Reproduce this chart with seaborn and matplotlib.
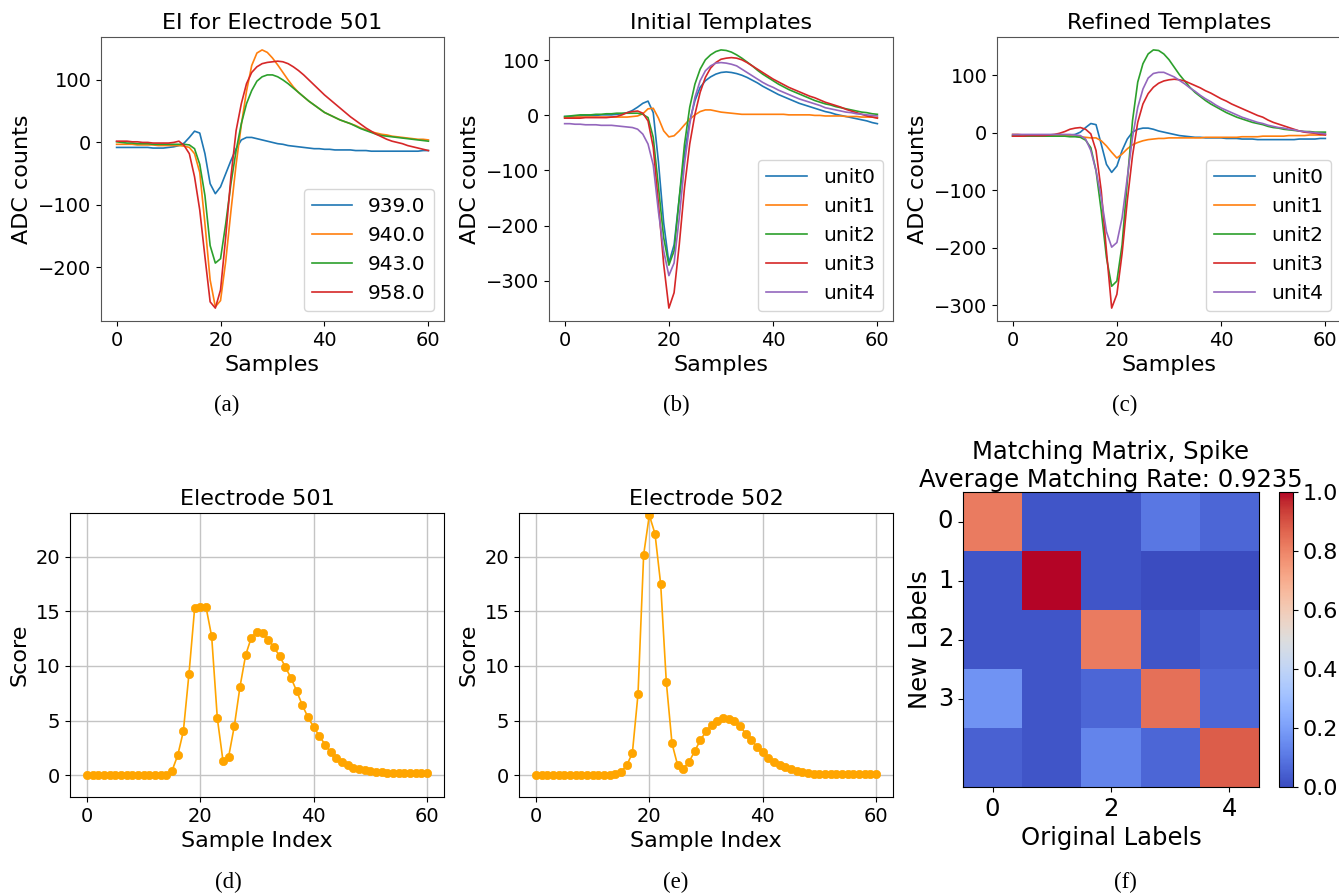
import numpy as np
import matplotlib
matplotlib.use('Agg')
import matplotlib.pyplot as plt
import seaborn as sns

samples = list(range(61))

# (a) EI for electrode 501, one trace per channel
ei_939 = [-8, -8, -8, -8, -8, -8, -8, -9, -9, -9, -8, -7, -5, -1, 8, 18, 15, -18, -66, -82,
          -71, -50, -29, -10, 4, 8, 8, 6, 4, 2, 0, -2, -3, -5, -6, -7, -8, -9, -10, -10,
          -11, -11, -12, -12, -12, -12, -13, -13, -13, -14, -14, -14, -14, -14, -14, -14, -14, -14, -14, -13, -13]
ei_940 = [-3, -3, -3, -3, -4, -4, -4, -4, -5, -5, -5, -5, -5, -6, -8, -18, -48, -130, -220, -263,
          -253, -190, -110, -35, 28, 82, 123, 143, 148, 144, 135, 124, 112, 100, 89, 80, 73, 66, 60, 54,
          48, 44, 40, 36, 33, 30, 27, 23, 20, 17, 15, 13, 12, 10, 9, 8, 7, 6, 5, 5, 4]
ei_943 = [1, 0, -1, -1, -2, -2, -2, -3, -3, -3, -3, -3, -3, -3, -4, -10, -35, -85, -165, -193,
          -186, -130, -66, -13, 30, 62, 83, 98, 105, 108, 108, 105, 100, 94, 87, 80, 73, 66, 60, 54,
          48, 44, 40, 36, 33, 30, 26, 22, 19, 16, 13, 11, 10, 9, 8, 7, 6, 5, 4, 3, 2]
ei_958 = [2, 2, 2, 1, 1, 0, 0, -1, -1, -1, -1, 0, 2, -5, -18, -55, -108, -183, -255, -265,
          -236, -151, -55, 19, 62, 94, 112, 121, 126, 128, 129, 130, 129, 126, 121, 115, 108, 100, 92, 84,
          76, 69, 62, 55, 48, 41, 35, 29, 23, 18, 13, 9, 5, 2, 0, -2, -5, -7, -9, -11, -13]
ei_labels = ['939.0', '940.0', '943.0', '958.0']

# (b) initial templates
init_unit0 = [-2, -2, -1, -1, 0, 0, 0, 1, 1, 1, 2, 3, 5, 9, 15, 22, 26, 5, -85, -195,
              -268, -235, -150, -70, -10, 27, 51, 63, 70, 75, 78, 79, 78, 76, 73, 69, 64, 59, 53, 48,
              43, 38, 34, 30, 26, 22, 19, 16, 13, 10, 7, 5, 2, 0, -2, -4, -6, -8, -10, -13, -15]
init_unit1 = [-4, -4, -3, -3, -3, -3, -3, -3, -3, -3, -3, -3, -3, -2, -1, 3, 12, 13, -5, -28,
              -39, -37, -28, -17, -7, 1, 7, 10, 10, 8, 6, 5, 4, 3, 2, 2, 2, 2, 2, 2,
              2, 2, 2, 1, 1, 1, 1, 1, 0, 0, -1, -1, -1, -1, -2, -2, -2, -3, -3, -3, -4]
init_unit2 = [-2, -1, 0, 1, 1, 1, 2, 2, 3, 3, 4, 4, 4, 4, 4, 2, -4, -40, -130, -222,
              -272, -246, -149, -52, 15, 57, 84, 101, 110, 116, 119, 118, 115, 110, 104, 97, 90, 82, 75, 69,
              63, 57, 52, 47, 43, 39, 35, 31, 27, 24, 21, 19, 16, 14, 12, 10, 8, 6, 5, 3, 2]
init_unit3 = [-5, -5, -5, -5, -4, -4, -4, -4, -4, -3, -2, 1, 5, 7, 8, 4, -10, -58, -161, -270,
              -350, -322, -234, -131, -52, 2, 42, 69, 86, 96, 102, 104, 105, 104, 101, 96, 90, 84, 78, 72,
              66, 61, 56, 51, 47, 43, 39, 35, 32, 28, 24, 21, 18, 15, 11, 8, 5, 2, -1, -3, -5]
init_unit4 = [-15, -15, -16, -16, -17, -17, -17, -18, -18, -18, -19, -20, -21, -22, -25, -34, -52, -90, -175, -246,
              -291, -268, -185, -88, -16, 33, 63, 81, 90, 95, 96, 95, 93, 90, 84, 78, 72, 66, 60, 55,
              51, 46, 42, 38, 34, 30, 27, 24, 21, 18, 14, 12, 10, 8, 6, 5, 3, 2, 1, 0, -1]

# (c) refined templates
ref_unit0 = [-5, -5, -5, -5, -5, -5, -5, -5, -5, -5, -5, -4, -3, 1, 9, 16, 14, -20, -55, -69,
             -58, -31, -11, 1, 6, 8, 8, 6, 3, 1, -1, -3, -5, -6, -7, -8, -8, -9, -9, -9,
             -9, -10, -10, -10, -11, -11, -11, -12, -12, -12, -12, -12, -12, -12, -12, -11, -11, -11, -11, -10, -10]
ref_unit1 = [-3, -3, -4, -4, -4, -4, -5, -5, -5, -5, -5, -6, -6, -7, -8, -9, -9, -14, -23, -34,
             -44, -37, -28, -21, -17, -14, -12, -11, -10, -10, -9, -9, -9, -9, -9, -9, -9, -8, -8, -8,
             -8, -8, -8, -8, -7, -7, -7, -7, -6, -6, -6, -6, -6, -5, -5, -5, -5, -4, -4, -4, -3]
ref_unit2 = [-6, -6, -6, -6, -6, -6, -6, -6, -6, -6, -6, -7, -7, -8, -13, -26, -66, -136, -217, -267,
             -258, -195, -84, 21, 88, 120, 137, 144, 143, 137, 127, 114, 101, 90, 79, 70, 63, 56, 50, 45,
             40, 35, 31, 27, 24, 21, 18, 16, 14, 11, 9, 8, 6, 5, 4, 3, 2, 2, 1, 1, 1]
ref_unit3 = [-6, -6, -6, -5, -5, -5, -5, -4, -3, -1, 2, 6, 8, 9, 6, -2, -31, -101, -206, -305,
             -281, -210, -118, -40, 18, 50, 68, 79, 86, 90, 92, 93, 92, 90, 86, 82, 78, 73, 69, 64,
             59, 55, 50, 46, 42, 38, 34, 30, 27, 22, 18, 15, 12, 9, 6, 3, 1, 0, -1, -3, -4]
ref_unit4 = [-3, -3, -3, -3, -3, -3, -3, -3, -3, -3, -3, -3, -4, -5, -11, -31, -66, -113, -172, -199,
             -191, -148, -78, -8, 44, 76, 95, 103, 105, 105, 101, 97, 91, 85, 78, 72, 65, 59, 54, 48,
             43, 39, 35, 31, 27, 24, 21, 18, 16, 13, 11, 9, 8, 6, 5, 3, 2, 1, 0, -1, -2]
unit_labels = ['unit0', 'unit1', 'unit2', 'unit3', 'unit4']

# (d), (e) scores
score_501 = [0, 0, 0, 0, 0, 0, 0, 0, 0, 0, 0, 0, 0, 0, 0, 0.4, 1.8, 4.0, 9.3, 15.3,
             15.35, 15.4, 12.7, 5.2, 1.3, 1.7, 4.5, 8.1, 11.0, 12.6, 13.1, 13.0, 12.4, 11.7, 10.9, 9.9, 8.9, 7.7, 6.4, 5.3,
             4.4, 3.6, 2.8, 2.1, 1.6, 1.2, 0.9, 0.7, 0.55, 0.45, 0.35, 0.3, 0.25, 0.2, 0.2, 0.2, 0.2, 0.2, 0.2, 0.2, 0.2]
score_502 = [0, 0, 0, 0, 0, 0, 0, 0, 0, 0, 0, 0, 0, 0, 0.1, 0.3, 0.9, 2.0, 7.4, 20.2,
             23.8, 22.1, 17.5, 8.5, 2.9, 0.9, 0.6, 1.2, 2.2, 3.2, 4.0, 4.6, 5.0, 5.2, 5.15, 4.95, 4.5, 3.8, 3.2, 2.6,
             2.1, 1.6, 1.25, 0.95, 0.75, 0.55, 0.4, 0.3, 0.2, 0.15, 0.1, 0.1, 0.1, 0.1, 0.1, 0.1, 0.1, 0.1, 0.1, 0.12, 0.12]

# (f) matching matrix: rows new labels, cols original labels
match_mat = np.array([
    [0.82, 0.02, 0.02, 0.10, 0.06],
    [0.02, 1.00, 0.02, 0.00, 0.00],
    [0.02, 0.02, 0.82, 0.02, 0.04],
    [0.17, 0.02, 0.06, 0.84, 0.06],
    [0.05, 0.02, 0.13, 0.06, 0.88],
])

colors = sns.color_palette('tab10')

fig = plt.figure(figsize=(13.39, 8.93), dpi=100)
W, H = 1339, 893

def box(l, t, r, b):
    return [l / W, 1 - b / H, (r - l) / W, (b - t) / H]

ax_a = fig.add_axes(box(101, 37, 444, 321))
ax_b = fig.add_axes(box(549, 37, 893, 321))
ax_c = fig.add_axes(box(997, 37, 1341, 321))
ax_d = fig.add_axes(box(70, 513, 444, 797))
ax_e = fig.add_axes(box(519, 513, 893, 797))
ax_f = fig.add_axes(box(963, 492, 1259, 787))
cax = fig.add_axes(box(1279, 492, 1293, 787))

def wave_panel(ax, series, labels, title):
    for i, (vals, lab) in enumerate(zip(series, labels)):
        sns.lineplot(x=samples, y=vals, color=colors[i], label=lab, linewidth=1.2, ax=ax)
    ax.set_title(title, fontsize=16)
    ax.set_xlabel('Samples', fontsize=16)
    ax.set_ylabel('ADC counts', fontsize=16)
    ax.set_xticks([0, 20, 40, 60])
    ax.tick_params(labelsize=14)
    ax.legend(loc='lower right', fontsize=14.5)
    for sp in ax.spines.values():
        sp.set_edgecolor('#555555')

wave_panel(ax_a, [ei_939, ei_940, ei_943, ei_958], ei_labels, 'EI for Electrode 501')
ax_a.set_yticks([-200, -100, 0, 100])
wave_panel(ax_b, [init_unit0, init_unit1, init_unit2, init_unit3, init_unit4], unit_labels, 'Initial Templates')
ax_b.set_yticks([-300, -200, -100, 0, 100])
wave_panel(ax_c, [ref_unit0, ref_unit1, ref_unit2, ref_unit3, ref_unit4], unit_labels, 'Refined Templates')
ax_c.set_yticks([-300, -200, -100, 0, 100])

def score_panel(ax, vals, title):
    sns.lineplot(x=samples, y=vals, color='orange', marker='o', markersize=6,
                 markeredgecolor='orange', markeredgewidth=0.5, linewidth=1.2, ax=ax)
    ax.set_title(title, fontsize=16)
    ax.set_xlabel('Sample Index', fontsize=16)
    ax.set_ylabel('Score', fontsize=16)
    ax.set_ylim(-2, 24)
    ax.set_xticks([0, 20, 40, 60])
    ax.set_yticks([0, 5, 10, 15, 20])
    ax.tick_params(labelsize=14)
    ax.grid(True, color='#c4c4c4', linewidth=1.0)

score_panel(ax_d, score_501, 'Electrode 501')
score_panel(ax_e, score_502, 'Electrode 502')

sns.heatmap(match_mat, cmap='coolwarm', vmin=0, vmax=1, ax=ax_f, cbar_ax=cax)
ax_f.set_xticks([0.5, 2.5, 4.5])
ax_f.set_xticklabels(['0', '2', '4'], fontsize=17.5)
ax_f.set_yticks([0.5, 1.5, 2.5, 3.5])
ax_f.set_yticklabels(['0', '1', '2', '3'], fontsize=17.5, rotation=0)
ax_f.tick_params(length=3.5)
for sp in ax_f.spines.values():
    sp.set_visible(True)
    sp.set_linewidth(0.8)
ax_f.set_xlabel('Original Labels', fontsize=17.5)
ax_f.set_ylabel('New Labels', fontsize=17.5)
ax_f.set_title('Matching Matrix, Spike\nAverage Matching Rate: 0.9235', fontsize=17.5, pad=3)
cbar = ax_f.collections[0].colorbar
cbar.outline.set_linewidth(0.8)
cbar.set_ticks([0, 0.2, 0.4, 0.6, 0.8, 1.0])
cbar.ax.tick_params(labelsize=16)

for lab, x, y in [('(a)', 227, 405), ('(b)', 676, 405), ('(c)', 1125, 405),
                  ('(d)', 228, 882), ('(e)', 676, 882), ('(f)', 1125, 882)]:
    fig.text(x / W, 1 - y / H, lab, ha='center', va='center', fontsize=16.5, family='Liberation Serif')

plt.savefig('out.png', dpi=100)
